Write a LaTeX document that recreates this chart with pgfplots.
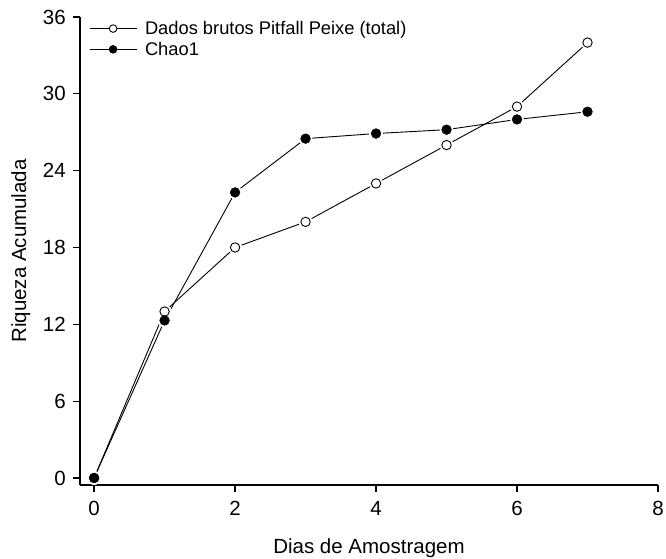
\documentclass[border=0pt]{standalone}
\usepackage{pgfplots}
\pgfplotsset{compat=1.18}
\usepackage{fontspec}
\setmainfont{Liberation Sans}
\begin{document}
\begin{tikzpicture}[x=1pt,y=1pt]
\useasboundingbox (-80,-74) rectangle (586,485);
\begin{axis}[
  at={(0,0)}, anchor=south west,
  scale only axis, width=578pt, height=468pt,
  xmin=-0.2, xmax=8, ymin=-0.55, ymax=36,
  axis x line*=bottom, axis y line*=left,
  axis line style={line width=1.6pt},
  xtick={0,2,4,6,8}, ytick={0,6,12,18,24,30,36},
  tick align=outside, major tick length=7pt,
  tick style={line width=1.2pt, black},
  /pgf/number format/assume math mode=true,
  ticklabel style={font=\fontsize{20.5}{24}\selectfont},
  yticklabel style={inner sep=1pt, xshift=-6pt},
  xticklabel style={inner sep=1pt, yshift=-8pt},
  xlabel={Dias de Amostragem}, ylabel={Riqueza Acumulada},
  label style={font=\fontsize{20.5}{24}\selectfont},
  xlabel style={yshift=-18pt},
  ylabel style={yshift=8pt},
  legend style={at={(axis description cs:0.012,1.0)}, anchor=north west, draw=none, fill=none,
    font=\fontsize{18.3}{21}\selectfont, row sep=2pt, inner sep=2pt, column sep=6pt},
  legend cell align=left,
  legend image code/.code={%
    \draw[#1, mark=none] (0pt,0pt) -- (47pt,0pt);
    \fill[white] (23.5pt,0pt) circle (6.5pt);
    \path[#1, mark size=3.8pt, mark repeat=2, mark phase=2] plot coordinates {(0pt,0pt)(23.5pt,0pt)(47pt,0pt)};},
]
\addlegendimage{black, line width=0.9pt, mark=*, mark options={fill=white, line width=0.9pt}}
\addlegendentry{Dados brutos Pitfall Peixe (total)}
\addlegendimage{black, line width=0.9pt, mark=*, mark options={fill=black}}
\addlegendentry{Chao1}
\addplot[black, line width=0.9pt, mark=none, forget plot]
 coordinates {(0,0)(1,13)(2,18)(3,20)(4,23)(5,26)(6,29)(7,34)};
\addplot[black, line width=0.9pt, mark=none, forget plot]
 coordinates {(0,0)(1,12.3)(2,22.3)(3,26.5)(4,26.9)(5,27.2)(6,28)(7,28.6)};
% white halos to leave gaps around the points
\addplot[white, only marks, mark=*, mark size=6.6pt, forget plot]
 coordinates {(0,0)(1,13)(2,18)(3,20)(4,23)(5,26)(6,29)(7,34)};
\addplot[white, only marks, mark=*, mark size=6.6pt, forget plot]
 coordinates {(0,0)(1,12.3)(2,22.3)(3,26.5)(4,26.9)(5,27.2)(6,28)(7,28.6)};
\addplot[black, only marks, mark=*, mark options={fill=white, line width=0.9pt}, mark size=4.7pt, forget plot]
 coordinates {(0,0)(1,13)(2,18)(3,20)(4,23)(5,26)(6,29)(7,34)};
\addplot[black, only marks, mark=*, mark options={fill=black}, mark size=4.9pt, forget plot]
 coordinates {(0,0)(1,12.3)(2,22.3)(3,26.5)(4,26.9)(5,27.2)(6,28)(7,28.6)};
\end{axis}
\end{tikzpicture}
\end{document}
